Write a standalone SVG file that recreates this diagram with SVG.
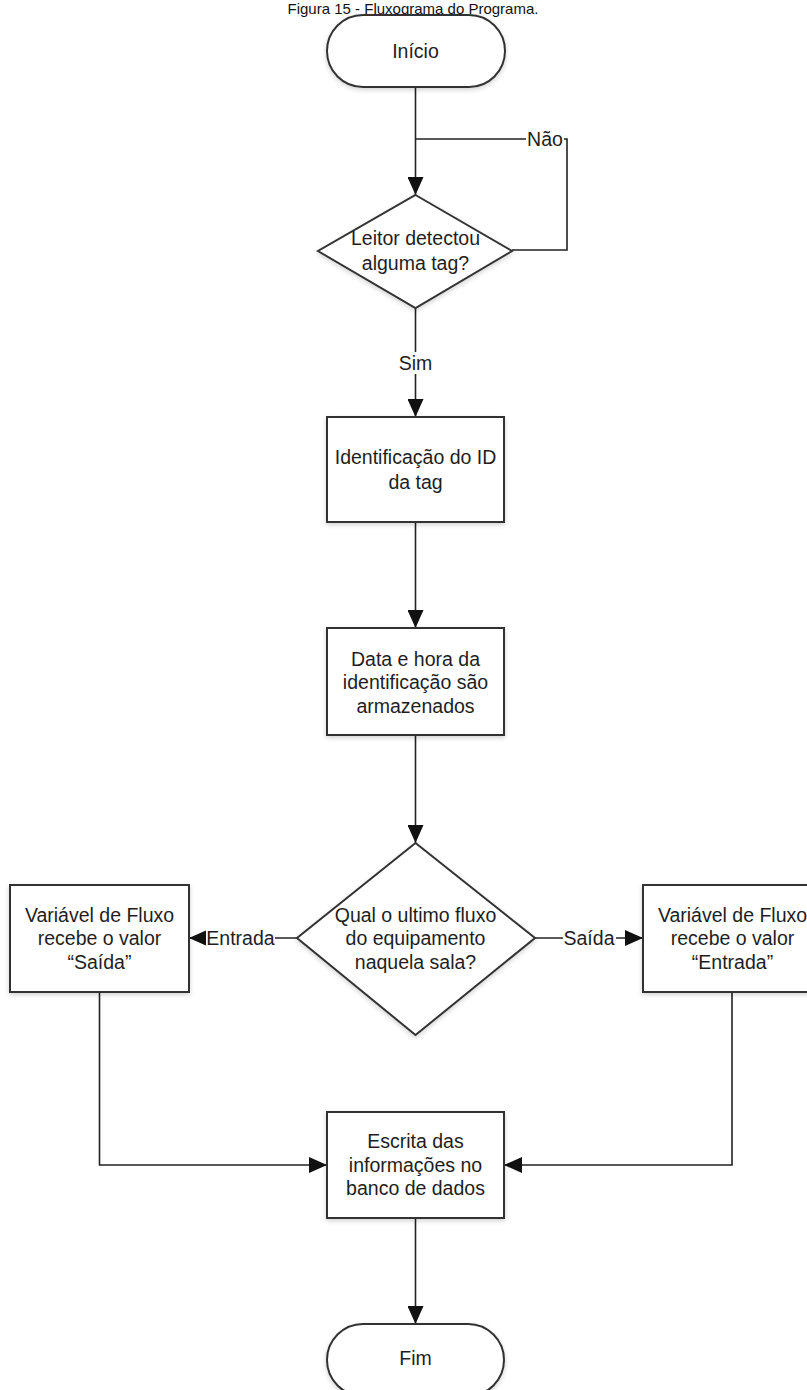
<svg xmlns="http://www.w3.org/2000/svg" width="807" height="1390" viewBox="0 0 807 1390">
  <style>
    .shape { fill: #ffffff; stroke: #333333; stroke-width: 2; filter: url(#soft); }
    .edge { fill: none; stroke: #222222; stroke-width: 1.6; }
    .txt { font-family: "Liberation Sans", Arial, sans-serif; font-size: 19.5px; fill: #1e1e1e; text-anchor: middle; }
    .lbl-bg { fill: #ffffff; stroke: none; }
    .title { font-family: "Liberation Sans", Arial, sans-serif; font-size: 15px; fill: #111111; text-anchor: middle; }
  </style>
  <defs>
    <marker id="arrow" markerUnits="userSpaceOnUse" markerWidth="18" markerHeight="16" refX="18" refY="8" orient="auto">
      <path d="M0,0 L18,8 L0,16 z" fill="#111111"/>
    </marker>
    <filter id="soft" x="-10%" y="-10%" width="120%" height="125%">
      <feGaussianBlur in="SourceAlpha" stdDeviation="2.5"/>
      <feOffset dx="0" dy="2" result="b"/>
      <feComponentTransfer><feFuncA type="linear" slope="0.18"/></feComponentTransfer>
      <feMerge><feMergeNode/><feMergeNode in="SourceGraphic"/></feMerge>
    </filter>
  </defs>

  <rect width="807" height="1390" fill="#ffffff"/>

  <text class="title" x="413" y="14">Figura 15 - Fluxograma do Programa.</text>

  <!-- connectors -->
  <g id="connectors">
    <path class="edge" d="M415.5,87 V195" marker-end="url(#arrow)"/>
    <path class="edge" d="M512,250 H567 V139 H415.5"/>
    <path class="edge" d="M415.5,308 V417" marker-end="url(#arrow)"/>
    <path class="edge" d="M415.5,522 V628" marker-end="url(#arrow)"/>
    <path class="edge" d="M415.5,735 V843" marker-end="url(#arrow)"/>
    <path class="edge" d="M297,938 H189" marker-end="url(#arrow)"/>
    <path class="edge" d="M535,938 H643" marker-end="url(#arrow)"/>
    <path class="edge" d="M99.5,992 V1165 H327" marker-end="url(#arrow)"/>
    <path class="edge" d="M732,992 V1165 H504" marker-end="url(#arrow)"/>
    <path class="edge" d="M415.5,1218 V1324" marker-end="url(#arrow)"/>

    <!-- edge labels -->
    <rect class="lbl-bg" x="526" y="128" width="38" height="22"/>
    <text class="txt" x="545" y="146">Não</text>
    <rect class="lbl-bg" x="397" y="352" width="36" height="22"/>
    <text class="txt" x="415.5" y="370">Sim</text>
    <rect class="lbl-bg" x="206" y="927" width="69" height="22"/>
    <text class="txt" x="240.5" y="945">Entrada</text>
    <rect class="lbl-bg" x="563" y="927" width="53" height="22"/>
    <text class="txt" x="589" y="945">Saída</text>
  </g>

  <g id="inicio">
    <rect class="shape" x="327" y="15" width="178" height="72" rx="36" ry="36"/>
    <text class="txt" x="415.5" y="58">Início</text>
  </g>

  <g id="detectou">
    <polygon class="shape" points="415.5,195 512,251 415.5,308 318,251"/>
    <text class="txt" x="415.5" y="245">Leitor detectou</text>
    <text class="txt" x="415.5" y="270">alguma tag?</text>
  </g>

  <g id="identificacao">
    <rect class="shape" x="327" y="417" width="177" height="105"/>
    <text class="txt" x="415.5" y="464">Identificação do ID</text>
    <text class="txt" x="415.5" y="489">da tag</text>
  </g>

  <g id="data-hora">
    <rect class="shape" x="327" y="628" width="177" height="107"/>
    <text class="txt" x="415.5" y="666">Data e hora da</text>
    <text class="txt" x="415.5" y="689">identificação são</text>
    <text class="txt" x="415.5" y="713">armazenados</text>
  </g>

  <g id="ultimo-fluxo">
    <polygon class="shape" points="415.5,843 535,938 415.5,1035 297,938"/>
    <text class="txt" x="415.5" y="922">Qual o ultimo fluxo</text>
    <text class="txt" x="415.5" y="945">do equipamento</text>
    <text class="txt" x="415.5" y="969">naquela sala?</text>
  </g>

  <g id="fluxo-saida">
    <rect class="shape" x="10" y="885" width="179" height="107"/>
    <text class="txt" x="99.5" y="922">Variável de Fluxo</text>
    <text class="txt" x="99.5" y="945">recebe o valor</text>
    <text class="txt" x="99.5" y="969">“Saída”</text>
  </g>

  <g id="fluxo-entrada">
    <rect class="shape" x="643" y="885" width="179" height="107"/>
    <text class="txt" x="732.5" y="922">Variável de Fluxo</text>
    <text class="txt" x="732.5" y="945">recebe o valor</text>
    <text class="txt" x="732.5" y="969">“Entrada”</text>
  </g>

  <g id="escrita">
    <rect class="shape" x="327" y="1112" width="177" height="106"/>
    <text class="txt" x="415.5" y="1148">Escrita das</text>
    <text class="txt" x="415.5" y="1172">informações no</text>
    <text class="txt" x="415.5" y="1195">banco de dados</text>
  </g>

  <g id="fim">
    <rect class="shape" x="327" y="1324" width="177" height="72" rx="36" ry="36"/>
    <text class="txt" x="415.5" y="1365">Fim</text>
  </g>
</svg>
